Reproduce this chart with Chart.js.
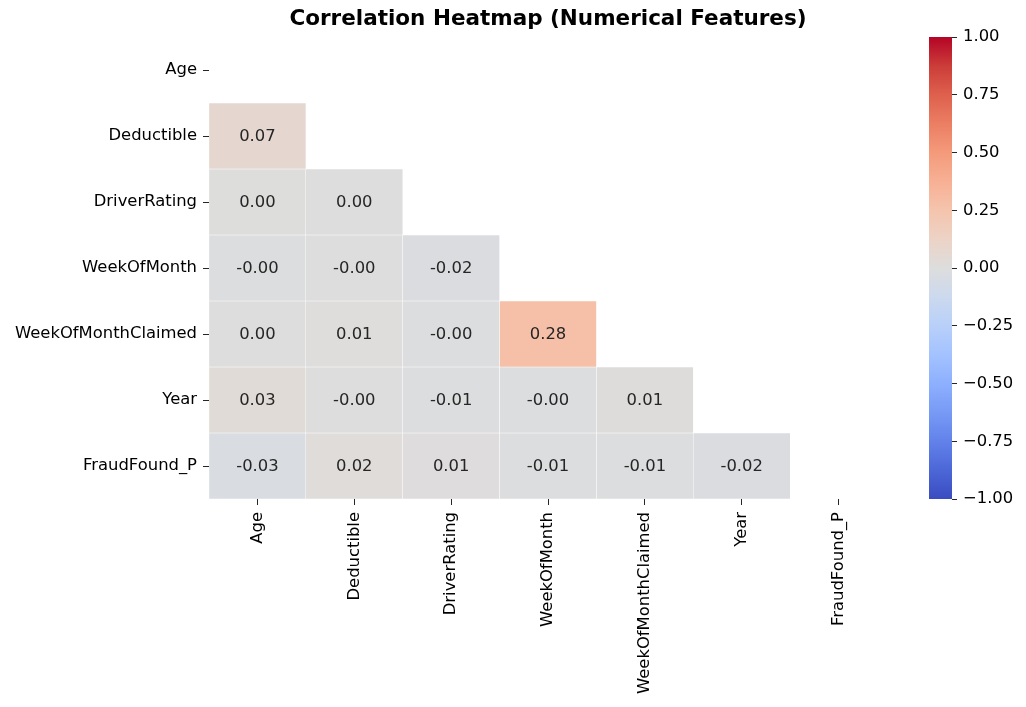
<!DOCTYPE html>
<html>
<head>
<meta charset="utf-8">
<script src="https://cdn.jsdelivr.net/npm/chart.js@4/dist/chart.umd.min.js"></script>
<style>
  html, body { margin: 0; padding: 0; background: #fff; overflow: hidden; }
  #wrap { position: relative; width: 1026px; height: 707px; }
  #heat { position: absolute; left: 0; top: 0; }
  #cbar { position: absolute; left: 900px; top: 0; }
</style>
</head>
<body>
<div id="wrap">
  <canvas id="heat" width="1026" height="707"></canvas>
  <canvas id="cbar" width="126" height="707"></canvas>
</div>
<script>
// ---- Data ----
const categories = ['Age', 'Deductible', 'DriverRating', 'WeekOfMonth', 'WeekOfMonthClaimed', 'Year', 'FraudFound_P'];
// lower triangle of the correlation matrix (row i has i entries)
const corrAge = [];
const corrDeductible = [0.07];
const corrDriverRating = [0.003, 0.002];
const corrWeekOfMonth = [-0.004, -0.003, -0.017];
const corrWeekOfMonthClaimed = [0.002, 0.006, -0.004, 0.278];
const corrYear = [0.03, -0.002, -0.007, -0.004, 0.012];
const corrFraudFound = [-0.03, 0.017, 0.007, -0.011, -0.006, -0.02];
const corrRows = [corrAge, corrDeductible, corrDriverRating, corrWeekOfMonth, corrWeekOfMonthClaimed, corrYear, corrFraudFound];
const colorbarTicks = [-1.0, -0.75, -0.5, -0.25, 0.0, 0.25, 0.5, 0.75, 1.0];
const vmin = -1, vmax = 1;

// ---- coolwarm colormap ----
const coolwarmStops = [
  [0.0, [58, 76, 192]],
  [0.0625, [76, 103, 215]],
  [0.125, [98, 130, 234]],
  [0.1875, [119, 154, 246]],
  [0.25, [141, 176, 254]],
  [0.3125, [163, 194, 255]],
  [0.375, [184, 208, 249]],
  [0.4375, [204, 217, 238]],
  [0.5, [221, 221, 221]],
  [0.5625, [236, 211, 198]],
  [0.625, [245, 196, 173]],
  [0.6875, [247, 176, 148]],
  [0.75, [244, 154, 123]],
  [0.8125, [235, 126, 99]],
  [0.875, [222, 96, 77]],
  [0.9375, [203, 61, 57]],
  [1.0, [180, 4, 38]]
];
function coolwarm(t) {
  t = Math.max(0, Math.min(1, t));
  for (let i = 0; i < coolwarmStops.length - 1; i++) {
    const [t0, c0] = coolwarmStops[i];
    const [t1, c1] = coolwarmStops[i + 1];
    if (t <= t1) {
      const f = (t - t0) / (t1 - t0);
      const c = c0.map((v, k) => Math.round(v + (c1[k] - v) * f));
      return `rgb(${c[0]},${c[1]},${c[2]})`;
    }
  }
  const c = coolwarmStops[coolwarmStops.length - 1][1];
  return `rgb(${c[0]},${c[1]},${c[2]})`;
}
function valueColor(v) { return coolwarm((v - vmin) / (vmax - vmin)); }

const FONT = "'DejaVu Sans', 'Liberation Sans', sans-serif";
const TICK_SIZE = 16.4;

// ---- heatmap datasets: one per row, floating bars [row, row+1] ----
const datasets = corrRows.map((row, r) => ({
  label: categories[r],
  data: categories.map((_, c) => (c < row.length ? [r, r + 1] : null)),
  values: categories.map((_, c) => (c < row.length ? row[c] : null)),
  backgroundColor: categories.map((_, c) => (c < row.length ? valueColor(row[c]) : 'rgba(0,0,0,0)')),
  borderColor: '#ffffff',
  borderWidth: 0.5,
  borderSkipped: false,
  barPercentage: 1.0,
  categoryPercentage: 1.0,
  grouped: false
}));

const annotatePlugin = {
  id: 'annotate',
  afterDatasetsDraw(chart) {
    const ctx = chart.ctx;
    ctx.save();
    ctx.font = `${TICK_SIZE}px ${FONT}`;
    ctx.fillStyle = '#262626';
    ctx.textAlign = 'center';
    ctx.textBaseline = 'middle';
    chart.data.datasets.forEach((ds, di) => {
      const meta = chart.getDatasetMeta(di);
      meta.data.forEach((el, i) => {
        const v = ds.values[i];
        if (v === null || v === undefined) return;
        const p = el.getCenterPoint();
        ctx.fillText(v.toFixed(2), p.x, p.y + 1);
      });
    });
    ctx.restore();
  }
};

new Chart(document.getElementById('heat'), {
  type: 'bar',
  data: { labels: categories, datasets },
  options: {
    responsive: false,
    animation: false,
    layout: { padding: { left: 0, right: 139, top: 0, bottom: 0 } },
    plugins: {
      legend: { display: false },
      tooltip: { enabled: false },
      title: {
        display: true,
        text: 'Correlation Heatmap (Numerical Features)',
        fullSize: false,
        color: '#000',
        font: { family: FONT, size: 21.5, weight: 'bold', lineHeight: 1.2 },
        padding: { top: 7, bottom: 4.2 }
      }
    },
    scales: {
      x: {
        type: 'category',
        offset: true,
        grid: { display: true, drawOnChartArea: false, drawTicks: true, tickLength: 6, color: '#262626', offset: false },
        border: { display: false },
        ticks: {
          autoSkip: false, minRotation: 90, maxRotation: 90, padding: 7,
          color: '#000', font: { family: FONT, size: TICK_SIZE }
        },
        afterFit(scale) { scale.height = 208; }
      },
      y: {
        type: 'linear',
        min: 0, max: 7, reverse: true,
        afterBuildTicks(scale) { scale.ticks = categories.map((_, i) => ({ value: i + 0.5 })); },
        grid: { display: true, drawOnChartArea: false, drawTicks: true, tickLength: 6, color: '#262626' },
        border: { display: false },
        ticks: {
          autoSkip: false, padding: 6, color: '#000', font: { family: FONT, size: TICK_SIZE },
          callback(value, index) { return categories[index]; }
        },
        afterFit(scale) { scale.width = 209; }
      }
    }
  },
  plugins: [annotatePlugin]
});

// ---- colorbar ----
function gradientFill(context) {
  const chart = context.chart;
  const area = chart.chartArea;
  if (!area) return null;
  const y = chart.scales.y;
  const g = chart.ctx.createLinearGradient(0, y.getPixelForValue(vmin), 0, y.getPixelForValue(vmax));
  coolwarmStops.forEach(([t, c]) => g.addColorStop(t, `rgb(${c[0]},${c[1]},${c[2]})`));
  return g;
}

new Chart(document.getElementById('cbar'), {
  type: 'bar',
  data: {
    labels: [''],
    datasets: [{
      data: [[vmin, vmax]],
      backgroundColor: gradientFill,
      borderWidth: 0,
      barPercentage: 1.0,
      categoryPercentage: 1.0
    }]
  },
  options: {
    responsive: false,
    animation: false,
    layout: { padding: { left: 29, right: 0, top: 37, bottom: 208 } },
    plugins: { legend: { display: false }, tooltip: { enabled: false } },
    scales: {
      x: { display: false },
      y: {
        type: 'linear', position: 'right', min: vmin, max: vmax,
        afterBuildTicks(scale) { scale.ticks = colorbarTicks.map(v => ({ value: v })); },
        grid: { display: true, drawOnChartArea: false, drawTicks: true, tickLength: 5, color: '#262626' },
        border: { display: false },
        ticks: {
          autoSkip: false, padding: 6, color: '#000', font: { family: FONT, size: TICK_SIZE },
          callback(value) { return value.toFixed(2).replace('-', '\u2212'); }
        },
        afterFit(scale) { scale.width = 74; }
      }
    }
  }
});
</script>
</body>
</html>
